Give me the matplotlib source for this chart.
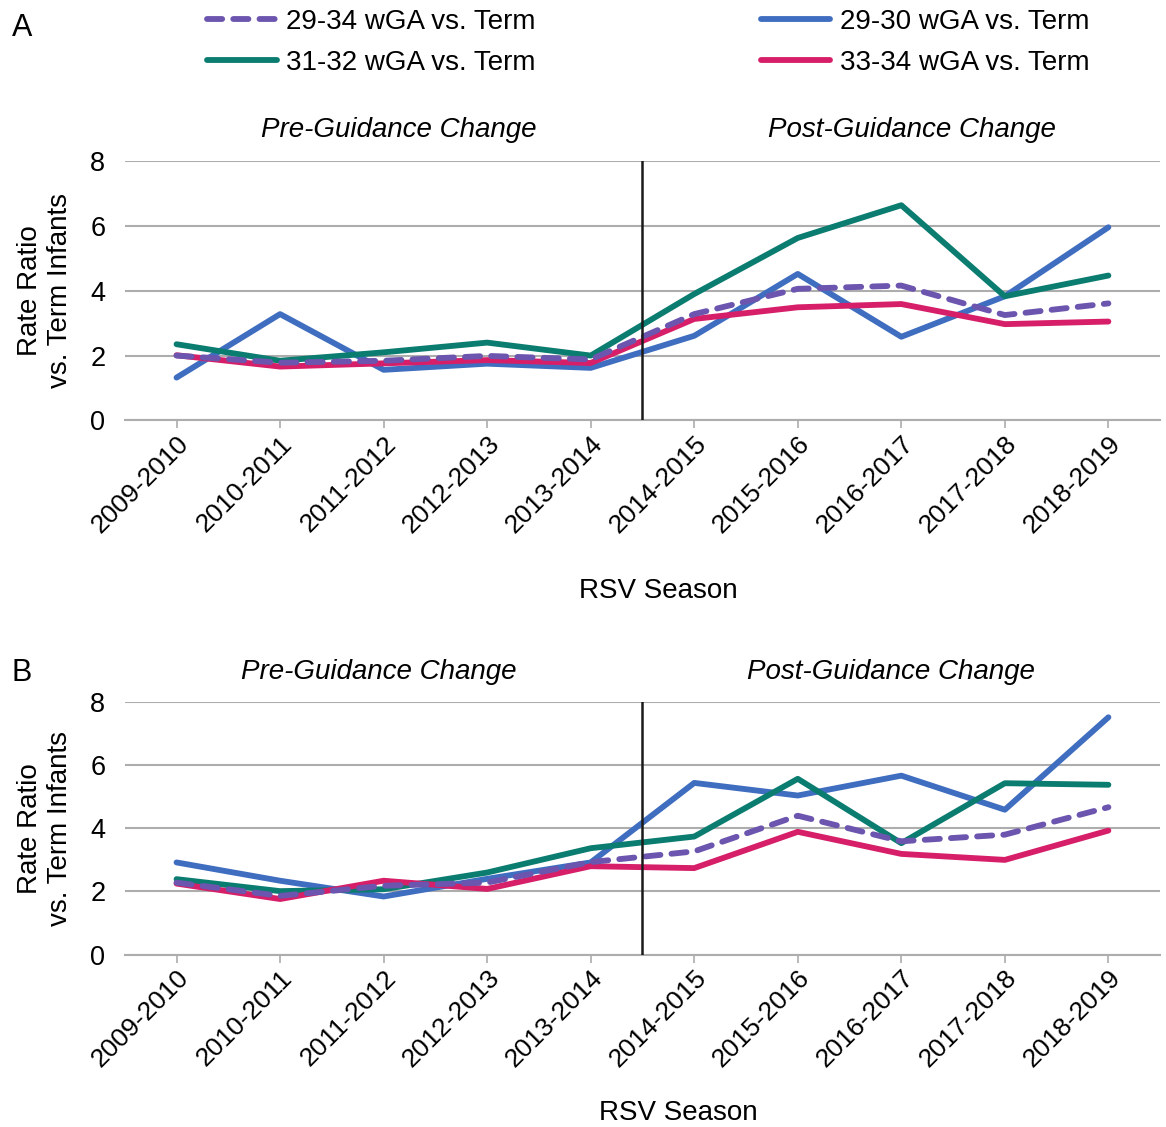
import numpy as np
import matplotlib
matplotlib.use("Agg")
import matplotlib.pyplot as plt
from matplotlib.lines import Line2D

plt.rcParams['font.family'] = ['Liberation Sans', 'DejaVu Sans']

seasons = ['2009-2010', '2010-2011', '2011-2012', '2012-2013', '2013-2014',
           '2014-2015', '2015-2016', '2016-2017', '2017-2018', '2018-2019']

# panel A
a_29_34 = [2.00, 1.78, 1.84, 1.99, 1.88, 3.28, 4.06, 4.16, 3.25, 3.61]
a_29_30 = [1.32, 3.28, 1.56, 1.75, 1.62, 2.61, 4.52, 2.58, 3.83, 5.96]
a_31_32 = [2.35, 1.84, 2.10, 2.40, 2.00, 3.90, 5.63, 6.64, 3.83, 4.47]
a_33_34 = [2.01, 1.66, 1.76, 1.86, 1.77, 3.13, 3.49, 3.59, 2.97, 3.05]

# panel B
b_29_34 = [2.28, 1.86, 2.18, 2.28, 2.93, 3.27, 4.40, 3.59, 3.80, 4.67]
b_29_30 = [2.92, 2.34, 1.84, 2.40, 2.92, 5.44, 5.04, 5.67, 4.59, 7.52]
b_31_32 = [2.39, 2.01, 2.07, 2.60, 3.37, 3.74, 5.57, 3.53, 5.43, 5.38]
b_33_34 = [2.25, 1.76, 2.34, 2.08, 2.80, 2.74, 3.89, 3.19, 3.00, 3.93]

series_names = ['29-34 wGA vs. Term', '29-30 wGA vs. Term',
                '31-32 wGA vs. Term', '33-34 wGA vs. Term']
colors = ['#6B55AE', '#3F6DBF', '#0B7C70', '#D61F68']
styles = [(0, (2.6, 1.9)), '-', '-', '-']
LW = 4.2

fig = plt.figure(figsize=(11.66, 11.27), dpi=100)
fs = 20
tfs = 18.5


def draw_panel(ax, data, pre_x, post_x):
    x = np.arange(len(seasons))
    # purple dashed drawn last so it sits on top like the original
    for i in [1, 2, 3, 0]:
        ax.plot(x, data[i], color=colors[i], lw=LW, linestyle=styles[i],
                solid_capstyle='round', dash_capstyle='round', zorder=3 + (i == 0))
    ax.set_xlim(-0.5, 9.5)
    ax.set_ylim(0, 8)
    ax.set_yticks([0, 2, 4, 6, 8])
    ax.grid(axis='y', color='#ADADAD', lw=1.5)
    ax.set_axisbelow(True)
    for s in ['top', 'right', 'left']:
        ax.spines[s].set_visible(False)
    ax.spines['bottom'].set_color('#ADADAD')
    ax.spines['bottom'].set_linewidth(1.5)
    ax.tick_params(axis='y', length=0, labelsize=tfs + 1, pad=14)
    ax.tick_params(axis='x', length=6, color='#ADADAD', width=1.2, labelsize=tfs + 0.5, pad=2)
    ax.set_xticks(x)
    ax.set_xticklabels(seasons, rotation=45, ha='right', rotation_mode='anchor')
    ax.axvline(4.5, ymin=0, ymax=1, color='#1a1a1a', lw=1.8, zorder=5)
    ax.set_ylabel('Rate Ratio\nvs. Term Infants', fontsize=fs, linespacing=1.2)
    ax.yaxis.set_label_coords(-0.05, 0.5)
    ax.set_xlabel('RSV Season', fontsize=fs)
    ax.text(pre_x, 8.55, 'Pre-Guidance Change', ha='center', va='bottom',
            fontsize=fs, style='italic')
    ax.text(post_x, 8.55, 'Post-Guidance Change', ha='center', va='bottom',
            fontsize=fs, style='italic')


ax1 = fig.add_axes([0.107, 0.627, 0.888, 0.230])
draw_panel(ax1, [a_29_34, a_29_30, a_31_32, a_33_34], 2.15, 7.1)
ax1.xaxis.set_label_coords(0.515, -0.61)

ax2 = fig.add_axes([0.107, 0.153, 0.888, 0.224])
draw_panel(ax2, [b_29_34, b_29_30, b_31_32, b_33_34], 1.95, 6.9)
ax2.xaxis.set_label_coords(0.535, -0.575)

fig.text(0.010, 0.975, 'A', fontsize=fs + 2, va='center')
fig.text(0.010, 0.403, 'B', fontsize=fs + 2, va='center')

# legend: two columns, two rows
handles = [Line2D([], [], color=colors[i], lw=LW, linestyle=styles[i],
                  dash_capstyle='round', solid_capstyle='round') for i in range(4)]
fig.legend([handles[0], handles[2], handles[1], handles[3]],
           [series_names[0], series_names[2], series_names[1], series_names[3]],
           ncol=2, loc='center', bbox_to_anchor=(0.556, 0.9625), frameon=False,
           fontsize=fs, handlelength=2.5, handletextpad=0.35,
           columnspacing=8.1, labelspacing=0.55)

fig.savefig('out.png', dpi=100, facecolor='white')
